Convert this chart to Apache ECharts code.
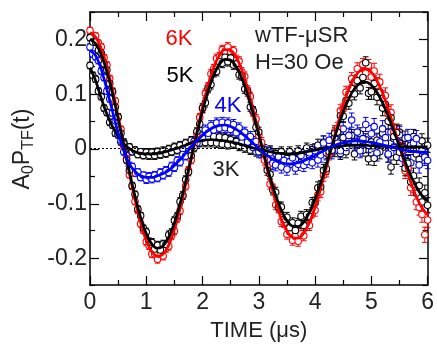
<!DOCTYPE html>
<html>
<head>
<meta charset="utf-8">
<title>wTF-μSR asymmetry</title>
<script src="https://cdn.jsdelivr.net/npm/echarts@6.0.0/dist/echarts.min.js"></script>
<style>
html, body { margin: 0; padding: 0; background: #fff; }
#chart { width: 437px; height: 347px; }
</style>
</head>
<body>
<div id="chart"></div>
<script>
// Weak transverse-field muon spin rotation (H = 30 Oe):
// asymmetry A0·P_TF(t) against time at four temperatures, with fitted curves.

// Time sampling of the spectra and of the fit curves, in μs
const dataStep = 0.05;
const fitStep = 0.1;

// Measured asymmetry, one value every 0.05 μs from 0 to 6 μs
const asym6K = [
  0.216, 0.207, 0.206, 0.193, 0.186, 0.166, 0.153, 0.128, 0.105, 0.087,
  0.057, 0.035, 0.004, -0.018, -0.048, -0.069, -0.097, -0.113, -0.138, -0.150,
  -0.171, -0.178, -0.193, -0.193, -0.203, -0.194, -0.197, -0.183, -0.179, -0.160,
  -0.151, -0.128, -0.114, -0.086, -0.069, -0.040, -0.021, 0.009, 0.027, 0.057,
  0.073, 0.101, 0.113, 0.137, 0.146, 0.165, 0.168, 0.181, 0.178, 0.186,
  0.177, 0.179, 0.163, 0.160, 0.140, 0.132, 0.107, 0.095, 0.067, 0.054,
  0.024, 0.011, -0.021, -0.034, -0.065, -0.074, -0.103, -0.109, -0.134, -0.136,
  -0.157, -0.153, -0.168, -0.161, -0.170, -0.156, -0.160, -0.141, -0.141, -0.118,
  -0.113, -0.085, -0.079, -0.049, -0.041, -0.010, -0.001, 0.031, 0.037, 0.069,
  0.072, 0.103, 0.100, 0.128, 0.122, 0.146, 0.135, 0.154, 0.138, 0.152,
  0.131, 0.142, 0.116, 0.122, 0.092, 0.097, 0.063, 0.066, 0.030, 0.031,
  -0.006, -0.003, -0.041, -0.036, -0.072, -0.066, -0.098, -0.108, -0.121, -0.158,
  -0.131
];
const asym5K = [
  0.203, 0.195, 0.195, 0.180, 0.175, 0.155, 0.144, 0.119, 0.104, 0.076,
  0.058, 0.028, 0.009, -0.021, -0.040, -0.068, -0.084, -0.111, -0.123, -0.146,
  -0.153, -0.171, -0.172, -0.184, -0.177, -0.186, -0.175, -0.176, -0.158, -0.154,
  -0.132, -0.124, -0.097, -0.086, -0.057, -0.043, -0.013, 0.001, 0.031, 0.045,
  0.074, 0.084, 0.110, 0.117, 0.139, 0.141, 0.159, 0.156, 0.167, 0.159,
  0.166, 0.153, 0.155, 0.135, 0.133, 0.109, 0.104, 0.076, 0.069, 0.039,
  0.030, -0.001, -0.009, -0.040, -0.047, -0.076, -0.080, -0.107, -0.107, -0.130,
  -0.126, -0.145, -0.136, -0.150, -0.137, -0.124, -0.141, -0.121, -0.124, -0.099,
  -0.100, -0.072, -0.070, -0.040, -0.037, -0.006, -0.003, 0.028, 0.030, 0.060,
  0.059, 0.088, 0.083, 0.110, 0.100, 0.124, 0.111, 0.130, 0.157, 0.101,
  0.104, 0.119, 0.094, 0.103, 0.074, 0.081, 0.050, 0.056, 0.022, 0.029,
  -0.007, 0.001, -0.036, -0.027, -0.061, -0.050, -0.082, -0.068, -0.098, -0.081,
  -0.104
];
const asym4K = [
  0.186, 0.173, 0.168, 0.161, 0.142, 0.130, 0.105, 0.091, 0.065, 0.051,
  0.026, 0.015, -0.006, -0.013, -0.031, -0.033, -0.045, -0.043, -0.053, -0.049,
  -0.057, -0.051, -0.056, -0.049, -0.054, -0.044, -0.049, -0.040, -0.044, -0.032,
  -0.035, -0.022, -0.025, -0.011, -0.014, 0.002, -0.002, 0.013, 0.010, 0.025,
  0.019, 0.034, 0.028, 0.042, 0.034, 0.047, 0.037, 0.048, 0.038, 0.047,
  0.035, 0.044, 0.029, 0.038, 0.021, 0.030, 0.012, 0.022, 0.002, 0.013,
  -0.006, 0.004, -0.012, -0.020, -0.008, -0.027, -0.030, -0.015, -0.034, -0.022,
  -0.038, -0.024, -0.017, -0.036, -0.029, -0.013, -0.031, -0.024, -0.008, -0.026,
  -0.004, -0.021, -0.012, 0.010, -0.008, 0.015, -0.006, 0.020, 0.028, -0.004,
  0.036, 0.002, 0.024, 0.052, 0.010, 0.030, -0.004, 0.018, 0.044, 0.006,
  0.027, 0.040, -0.008, 0.012, 0.036, 0.020, -0.010, 0.030, 0.002, 0.014,
  0.025, -0.018, -0.002, 0.020, -0.026, 0.010, 0.018, -0.030, -0.004, -0.016,
  -0.022
];
const asym3K = [
  0.152, 0.134, 0.127, 0.105, 0.095, 0.074, 0.066, 0.048, 0.043, 0.028,
  0.025, 0.012, 0.012, 0.001, 0.003, -0.006, -0.003, -0.011, -0.006, -0.013,
  -0.007, -0.013, -0.007, -0.013, -0.006, -0.011, -0.004, -0.009, -0.001, -0.006,
  0.003, -0.003, 0.006, 0.000, 0.010, 0.004, 0.015, 0.007, 0.018, 0.010,
  0.020, 0.011, 0.021, 0.011, 0.022, 0.010, 0.021, 0.008, 0.020, 0.007,
  0.016, 0.008, 0.013, 0.004, 0.011, 0.001, 0.008, -0.003, 0.004, -0.006,
  0.004, -0.008, -0.002, -0.011, -0.004, -0.012, -0.009, -0.016, -0.006, -0.014,
  -0.018, -0.006, -0.014, -0.020, -0.004, -0.011, -0.016, 0.001, -0.012, -0.002,
  -0.010, 0.006, -0.004, 0.012, -0.008, 0.009, 0.016, -0.004, 0.010, -0.009,
  0.020, -0.006, 0.014, 0.024, -0.010, 0.008, 0.027, -0.003, 0.016, -0.019,
  0.012, -0.018, 0.015, -0.006, 0.028, 0.010, -0.012, -0.034, 0.018, -0.016,
  0.030, -0.004, 0.019, -0.024, 0.006, 0.022, -0.010, -0.020, 0.014, -0.014,
  0.006
];

// Error-bar half heights, one value per 1 μs window (0-1, 1-2, ... 5-6 μs)
const err6K = [0.006, 0.007, 0.008, 0.009, 0.011, 0.014];
const err5K = [0.006, 0.007, 0.008, 0.009, 0.011, 0.014];
const err4K = [0.006, 0.007, 0.009, 0.011, 0.013, 0.015];
const err3K = [0.006, 0.007, 0.008, 0.009, 0.011, 0.013];

// Fitted curves, one value every 0.1 μs from 0 to 6 μs
const fit6K = [
  0.212, 0.204, 0.183, 0.150, 0.1075, 0.0587, 0.0066, -0.0454, -0.0938, -0.1356,
  -0.1681, -0.1891, -0.1977, -0.1933, -0.1762, -0.1481, -0.1105, -0.0662, -0.0183, 0.0302,
  0.0761, 0.1164, 0.1486, 0.1706, 0.1812, 0.1799, 0.1668, 0.1431, 0.1105, 0.0712,
  0.0279, -0.0166, -0.0593, -0.0974, -0.1286, -0.1508, -0.1628, -0.1642, -0.1547, -0.1354,
  -0.1076, -0.0733, -0.0349, 0.0050, 0.0438, 0.0790, 0.1083, 0.1301, 0.1429, 0.1461,
  0.1398, 0.1245, 0.1015, 0.0724, 0.0393, 0.0044, -0.0300, -0.0616, -0.0883, -0.1087,
  -0.1215
];
const fit5K = [
  0.2000, 0.1921, 0.1719, 0.1407, 0.1008, 0.0549, 0.0062, -0.0423, -0.0874, -0.1260,
  -0.1559, -0.1751, -0.1827, -0.1783, -0.1623, -0.1361, -0.1013, -0.0607, -0.0167, 0.0275,
  0.0692, 0.1056, 0.1345, 0.1541, 0.1634, 0.1618, 0.1497, 0.1281, 0.0987, 0.0634,
  0.0247, -0.0147, -0.0524, -0.0858, -0.1130, -0.1321, -0.1423, -0.1429, -0.1343, -0.1171,
  -0.0928, -0.0630, -0.0299, 0.0043, 0.0372, 0.0669, 0.0915, 0.1093, 0.1196, 0.1218,
  0.1161, 0.1029, 0.0835, 0.0593, 0.0320, 0.0036, -0.0242, -0.0494, -0.0705, -0.0863,
  -0.0958
];
const fit4K = [
  0.180, 0.170, 0.145, 0.108, 0.068, 0.029, -0.004, -0.028, -0.042, -0.050,
  -0.053, -0.053, -0.050, -0.046, -0.040, -0.031, -0.0205, -0.009, 0.0027, 0.0141,
  0.0244, 0.0328, 0.0389, 0.0424, 0.0430, 0.0402, 0.0349, 0.0276, 0.0189, 0.0096,
  0.0001, -0.0087, -0.0163, -0.0222, -0.0262, -0.0281, -0.0280, -0.0261, -0.0225, -0.0178,
  -0.0124, -0.0068, -0.0013, 0.0036, 0.0077, 0.0109, 0.0130, 0.0140, 0.0139, 0.0128,
  0.0113, 0.0092, 0.0066, 0.0039, 0.0013, -0.0011, -0.0032, -0.0049, -0.0061, -0.0068,
  -0.0069
];
const fit3K = [
  0.148, 0.124, 0.092, 0.063, 0.040, 0.022, 0.009, 0.000, -0.006, -0.009,
  -0.010, -0.010, -0.009, -0.007, -0.004, -0.001, 0.002, 0.006, 0.010, 0.013,
  0.015, 0.016, 0.016, 0.015, 0.014, 0.012, 0.010, 0.007, 0.004, 0.001,
  -0.002, -0.004, -0.006, -0.008, -0.009, -0.010, -0.010, -0.009, -0.007, -0.005,
  -0.003, -0.001, 0.001, 0.003, 0.004, 0.005, 0.006, 0.006, 0.006, 0.006,
  0.005, 0.005, 0.004, 0.004, 0.003, 0.003, 0.003, 0.003, 0.003, 0.003,
  0.003
];

// Axis ticks
const yMajorTicks = [-0.2, -0.1, 0, 0.1, 0.2];
const yMinorTicks = [-0.25, -0.15, -0.05, 0.05, 0.15, 0.25];

const FONT = "'Liberation Sans', Arial, Helvetica, sans-serif";
const RED = '#ff0000', BLACK = '#000000', BLUE = '#0000ff';
const TXT = '#222222';

const tAt = (i, step) => Math.round(i * step * 1000) / 1000;

function pointsOf(vals) {
  return vals.map((v, i) => [tAt(i, dataStep), v]);
}
function barsOf(vals, band) {
  return vals.map((v, i) => {
    const t = tAt(i, dataStep);
    const e = band[Math.min(band.length - 1, Math.floor(t + 1e-9))];
    return [t, v - e, v + e];
  });
}
function curveOf(vals) {
  return vals.map((v, i) => [tAt(i, fitStep), v]);
}

function errorBars(name, vals, band, color) {
  return {
    type: 'custom',
    name: name + ' err',
    xAxisIndex: 0, yAxisIndex: 0,
    silent: true,
    clip: false,
    data: barsOf(vals, band),
    encode: { x: 0, y: [1, 2] },
    renderItem(params, api) {
      const lo = api.coord([api.value(0), api.value(1)]);
      const hi = api.coord([api.value(0), api.value(2)]);
      const w = 2.8;
      const st = { stroke: color, lineWidth: 1 };
      return {
        type: 'group',
        children: [
          { type: 'line', shape: { x1: lo[0], y1: lo[1], x2: hi[0], y2: hi[1] }, style: st },
          { type: 'line', shape: { x1: lo[0] - w, y1: lo[1], x2: lo[0] + w, y2: lo[1] }, style: st },
          { type: 'line', shape: { x1: hi[0] - w, y1: hi[1], x2: hi[0] + w, y2: hi[1] }, style: st }
        ]
      };
    }
  };
}
function markers(name, vals, color) {
  return {
    type: 'scatter',
    name: name,
    xAxisIndex: 0, yAxisIndex: 0,
    silent: true,
    clip: false,
    symbol: 'circle',
    symbolSize: 6.5,
    itemStyle: { color: '#ffffff', borderColor: color, borderWidth: 1.1, opacity: 1 },
    data: pointsOf(vals)
  };
}
function fitLine(name, vals, color) {
  return {
    type: 'line',
    name: name + ' fit',
    xAxisIndex: 0, yAxisIndex: 0,
    silent: true,
    showSymbol: false,
    smooth: 0.35,
    lineStyle: { color: color, width: 2.7 },
    data: curveOf(vals)
  };
}

const axisLineStyle = { color: '#000', width: 1.5 };
const tickStyle = { color: '#000', width: 1.2 };

function xAxisCfg(position, extra) {
  return Object.assign({
    type: 'value', gridIndex: 0, position: position,
    min: 0, max: 6, interval: 1,
    axisLine: { show: true, onZero: false, lineStyle: axisLineStyle },
    axisTick: { show: true, inside: true, length: 9, lineStyle: tickStyle },
    minorTick: { show: true, splitNumber: 2, length: 5, lineStyle: tickStyle },
    axisLabel: { show: false },
    splitLine: { show: false },
    minorSplitLine: { show: false }
  }, extra || {});
}
function yAxisCfg(gridIndex, position, ticks, len, extra) {
  return Object.assign({
    type: 'value', gridIndex: gridIndex, position: position,
    min: -0.25, max: 0.25, interval: 0.05,
    axisLine: { show: gridIndex === 0, onZero: false, lineStyle: axisLineStyle },
    axisTick: { show: true, inside: true, length: len, lineStyle: tickStyle, customValues: ticks },
    axisLabel: { show: false },
    splitLine: { show: false }
  }, extra || {});
}

const chart = echarts.init(document.getElementById('chart'), null, { renderer: 'canvas' });

const gridRect = { left: 90, right: 9, top: 12, bottom: 61 };

chart.setOption({
  animation: false,
  backgroundColor: '#ffffff',
  grid: [
    Object.assign({ containLabel: false }, gridRect),
    Object.assign({ containLabel: false }, gridRect)
  ],
  xAxis: [
    xAxisCfg('bottom', {
      axisLabel: { show: true, fontSize: 23, fontFamily: FONT, color: TXT, margin: 6 },
      name: 'TIME (μs)',
      nameLocation: 'middle',
      nameGap: 35,
      nameTextStyle: { fontSize: 22, fontFamily: FONT, color: TXT }
    }),
    xAxisCfg('top'),
    { type: 'value', gridIndex: 1, min: 0, max: 6, show: false },
    { type: 'value', gridIndex: 1, min: 0, max: 6, show: false, position: 'top' }
  ],
  yAxis: [
    yAxisCfg(0, 'left', yMinorTicks, 5),
    yAxisCfg(0, 'right', yMinorTicks, 5),
    yAxisCfg(1, 'left', yMajorTicks, 9, {
      axisLabel: {
        show: true, customValues: yMajorTicks, fontSize: 23, fontFamily: FONT, color: TXT, margin: 3,
        formatter: v => String(Math.round(v * 10) / 10)
      },
      name: '{m|A}{s|0}{m|P}{s|TF}{m|(t)}',
      nameLocation: 'middle',
      nameRotate: 90,
      nameGap: 47,
      nameTextStyle: {
        rich: {
          m: { fontSize: 23, fontFamily: FONT, color: TXT, lineHeight: 28 },
          s: { fontSize: 16, fontFamily: FONT, color: TXT, lineHeight: 16, verticalAlign: 'bottom' }
        }
      }
    }),
    yAxisCfg(1, 'right', yMajorTicks, 9)
  ],
  series: [
    errorBars('3K', asym3K, err3K, BLACK),
    markers('3K', asym3K, BLACK),
    errorBars('4K', asym4K, err4K, BLUE),
    markers('4K', asym4K, BLUE),
    errorBars('6K', asym6K, err6K, RED),
    markers('6K', asym6K, RED),
    errorBars('5K', asym5K, err5K, BLACK),
    markers('5K', asym5K, BLACK),
    Object.assign(fitLine('6K', fit6K, RED), {
      markLine: {
        silent: true,
        symbol: ['none', 'none'],
        label: { show: false },
        lineStyle: { color: '#000', width: 1, type: [2, 2] },
        data: [{ yAxis: 0 }]
      }
    }),
    fitLine('5K', fit5K, BLACK),
    fitLine('3K', fit3K, BLACK),
    fitLine('4K', fit4K, BLUE)
  ],
  graphic: {
    elements: [
      { type: 'text', x: 179, y: 39, style: { text: '6K', fill: RED, font: '22px ' + FONT, align: 'center', verticalAlign: 'middle' } },
      { type: 'text', x: 180, y: 76, style: { text: '5K', fill: BLACK, font: '22px ' + FONT, align: 'center', verticalAlign: 'middle' } },
      { type: 'text', x: 228, y: 106, style: { text: '4K', fill: BLUE, font: '22px ' + FONT, align: 'center', verticalAlign: 'middle' } },
      { type: 'text', x: 226, y: 170, style: { text: '3K', fill: TXT, font: '22px ' + FONT, align: 'center', verticalAlign: 'middle' } },
      { type: 'text', x: 255, y: 36, style: { text: 'wTF-μSR', fill: TXT, font: '22px ' + FONT, align: 'left', verticalAlign: 'middle' } },
      { type: 'text', x: 255, y: 63, style: { text: 'H=30 Oe', fill: TXT, font: '22px ' + FONT, align: 'left', verticalAlign: 'middle' } }
    ]
  }
});
</script>
</body>
</html>
